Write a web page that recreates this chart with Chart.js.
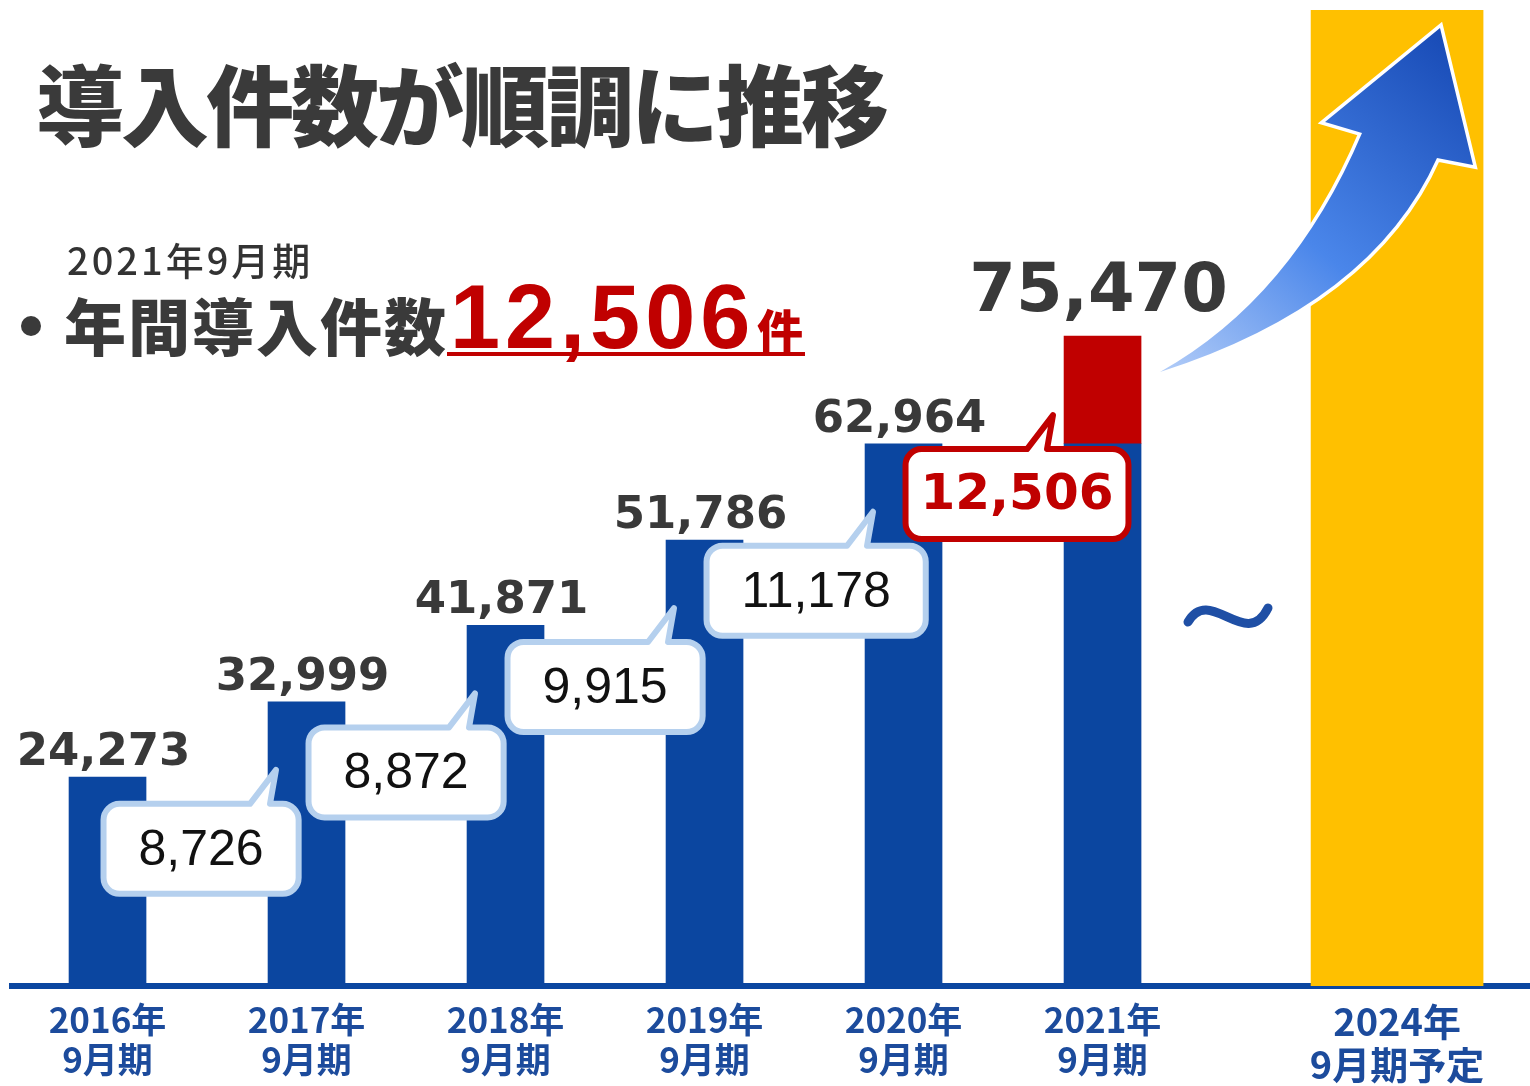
<!DOCTYPE html>
<html>
<head>
<meta charset="utf-8">
<script src="https://cdn.jsdelivr.net/npm/chart.js@4.4.1/dist/chart.umd.min.js"></script>
<style>
html,body{margin:0;padding:0;background:#fff;}
#wrap{position:relative;width:1530px;height:1086px;overflow:hidden;background:#fff;}
#wrap canvas{position:absolute;left:0;top:0;}
.t{position:absolute;white-space:nowrap;line-height:1;margin:0;font-family:"Noto Sans CJK JP","Noto Sans",sans-serif;}
#title{left:36px;top:57px;font-size:88px;font-weight:900;letter-spacing:-3px;color:#3a3a3a;}
#sub{left:67px;top:240px;font-size:38px;font-weight:500;letter-spacing:3px;color:#333;}
#bullet{position:absolute;left:21px;top:316px;width:20px;height:20px;border-radius:50%;background:#3a3a3a;}
#lead{left:64px;top:293px;font-size:62px;font-weight:900;letter-spacing:2px;color:#3a3a3a;}
#bignum{left:450px;top:272px;font-family:"Liberation Sans",Arial,sans-serif;font-size:90px;font-weight:700;letter-spacing:5px;color:#c00000;}
#ken{left:757px;top:305px;font-size:46px;font-weight:900;color:#c00000;}
#uline{position:absolute;left:447px;top:352px;width:358px;height:4px;background:#c00000;}
</style>
</head>
<body>
<div id="wrap">
  <canvas id="c" width="1530" height="1086"></canvas>
  <div class="t" id="title">導入件数が順調に推移</div>
  <div class="t" id="sub">2021年9月期</div>
  <div id="bullet"></div>
  <div class="t" id="lead">年間導入件数</div>
  <div class="t" id="bignum">12,506</div>
  <div class="t" id="ken">件</div>
  <div id="uline"></div>
</div>
<script>
// ---- data ----
const periodYears = ['2016年', '2017年', '2018年', '2019年', '2020年', '2021年', '2024年'];
const periodTerms = ['9月期', '9月期', '9月期', '9月期', '9月期', '9月期', '9月期予定'];
const axisSlots = [0, 1, 2, 3, 4, 5, 6.48];           // broken axis: 2024 sits after the gap
const cumulative = [24273, 32999, 41871, 51786, 62964, 75470];
const annualAdds = [null, 8726, 8872, 9915, 11178, 12506];
const plan2024 = [113300];
const yMax = 114500;

const BLUE = '#0b46a0';
const RED = '#c00000';
const YELLOW = '#ffc000';

const lastIdx = cumulative.length - 1;
const blueData = cumulative.map((v, i) => ({x: axisSlots[i], y: i === lastIdx ? v - annualAdds[i] : v}));
const redData = [{x: axisSlots[lastIdx], y: annualAdds[lastIdx]}];
const yellowData = [{x: axisSlots[6], y: plan2024[0]}];

function bubble(ctx, bx, by, w, h, r, tipX, tipY, stroke) {
  const b1 = tipX - 26, b2 = tipX - 6;
  ctx.beginPath();
  ctx.moveTo(bx + r, by);
  ctx.lineTo(b1, by);
  ctx.lineTo(tipX, tipY);
  ctx.lineTo(b2, by);
  ctx.lineTo(bx + w - r, by);
  ctx.arcTo(bx + w, by, bx + w, by + r, r);
  ctx.lineTo(bx + w, by + h - r);
  ctx.arcTo(bx + w, by + h, bx + w - r, by + h, r);
  ctx.lineTo(bx + r, by + h);
  ctx.arcTo(bx, by + h, bx, by + h - r, r);
  ctx.lineTo(bx, by + r);
  ctx.arcTo(bx, by, bx + r, by, r);
  ctx.closePath();
  ctx.fillStyle = '#fff';
  ctx.fill();
  ctx.lineWidth = 6;
  ctx.lineJoin = 'round';
  ctx.strokeStyle = stroke;
  ctx.stroke();
}

const overlay = {
  id: 'overlay',
  afterDatasetsDraw(chart) {
    const {ctx, scales: {x, y}} = chart;
    const barW = 77;
    ctx.save();
    // increment callouts
    for (let i = 1; i < cumulative.length; i++) {
      const last = i === lastIdx;
      const prevC = x.getPixelForValue(axisSlots[i - 1]);
      const curC = x.getPixelForValue(axisSlots[i]);
      const topPx = y.getPixelForValue(cumulative[i]);
      const label = annualAdds[i].toLocaleString('en-US');
      ctx.font = last ? 'bold 50px "DejaVu Sans"' : '50px "Liberation Sans"';
      const tw = ctx.measureText(label).width;
      const w = last ? tw + 30 : tw + 70;
      const h = 90;
      const bx = prevC + (i === 1 ? -4 : 2);
      const by = topPx + (last ? 158 : 147) - h / 2;
      const tipX = curC - barW / 2 + (last ? -11 : 8);
      const tipY = topPx + (last ? 79 : 68);
      bubble(ctx, bx, by, w, h, 16, tipX, tipY, last ? RED : '#b5d0ee');
      ctx.fillStyle = last ? RED : '#111';
      ctx.textAlign = 'center';
      ctx.textBaseline = 'middle';
      ctx.fillText(label, bx + w / 2, by + h / 2 + 2);
    }
    // cumulative labels
    cumulative.forEach((v, i) => {
      const last = i === lastIdx;
      ctx.font = last ? 'bold 67px "DejaVu Sans"' : 'bold 45px "DejaVu Sans"';
      ctx.fillStyle = '#393939';
      ctx.textAlign = 'center';
      ctx.textBaseline = 'alphabetic';
      ctx.fillText(v.toLocaleString('en-US'), x.getPixelForValue(axisSlots[i]) - 4, y.getPixelForValue(v) - (last ? 25 : 12));
    });
    // axis-break tilde
    ctx.beginPath();
    ctx.moveTo(1188, 622);
    ctx.bezierCurveTo(1210, 584, 1246, 652, 1268, 608);
    ctx.lineWidth = 9;
    ctx.lineCap = 'round';
    ctx.strokeStyle = '#1f4fa5';
    ctx.stroke();
    // growth arrow
    ctx.beginPath();
    ctx.moveTo(1160, 372);
    ctx.quadraticCurveTo(1292, 298, 1362, 133);
    ctx.lineTo(1325, 122);
    ctx.lineTo(1440, 28);
    ctx.lineTo(1473, 165);
    ctx.lineTo(1437, 158);
    ctx.quadraticCurveTo(1372, 304, 1160, 372);
    ctx.closePath();
    ctx.lineJoin = 'miter';
    ctx.miterLimit = 2.5;
    ctx.lineWidth = 7;
    ctx.strokeStyle = '#ffffff';
    ctx.stroke();
    const g = ctx.createLinearGradient(1160, 372, 1440, 40);
    g.addColorStop(0, '#b3cdf8');
    g.addColorStop(0.45, '#4a86ea');
    g.addColorStop(1, '#1a4db8');
    ctx.fillStyle = g;
    ctx.fill();
    ctx.restore();
  }
};

new Chart(document.getElementById('c'), {
  type: 'bar',
  data: {
    datasets: [
      {label: '累計導入件数', data: blueData, backgroundColor: BLUE, barThickness: 77},
      {label: '年間導入件数', data: redData, backgroundColor: RED, barThickness: 77},
      {label: '2024年9月期予定', data: yellowData, backgroundColor: YELLOW, barThickness: 172}
    ]
  },
  options: {
    responsive: false,
    devicePixelRatio: 1,
    animation: false,
    layout: {padding: {left: 12, right: 0, top: 0, bottom: 0}},
    plugins: {legend: {display: false}, tooltip: {enabled: false}, title: {display: false}},
    scales: {
      x: {
        type: 'linear',
        min: -0.48,
        max: 7.148,
        offset: false,
        stacked: true,
        z: 1,
        grid: {display: true, color: 'rgba(0,0,0,0)', drawTicks: false},
        border: {display: true, color: BLUE, width: 6},
        afterBuildTicks: s => { s.ticks = axisSlots.map(v => ({value: v})); },
        afterFit: s => { s.height = 100; },
        ticks: {
          autoSkip: false,
          maxRotation: 0,
          minRotation: 0,
          padding: 14,
          color: '#1c4b9c',
          font: c => ({family: '"Noto Sans CJK JP"', weight: 'bold', size: c.index === 6 ? 38 : 35, lineHeight: 1.13}),
          callback: (v, i) => [periodYears[i], periodTerms[i]]
        }
      },
      y: {display: false, min: 0, max: yMax, stacked: true}
    }
  },
  plugins: [overlay]
});
</script>
</body>
</html>
